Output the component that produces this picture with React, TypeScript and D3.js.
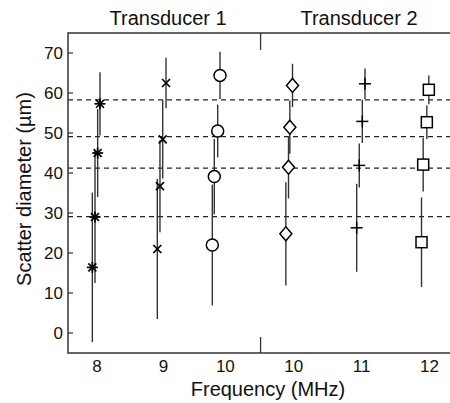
import React from "react";
import * as d3 from "d3";

// ---- data ----
const tickLabels = ["8", "9", "10", "10", "11", "12"];
const tickSlots = [1, 2, 2.93, 3.96, 4.98, 6.0];
const separatorSlot = 3.46;
const groupTitles = ["Transducer 1", "Transducer 2"];
const groupTitleSlots = [2.07, 4.94];
const yTicks = [0, 10, 20, 30, 40, 50, 60, 70];
const refLines = [29.1, 41.2, 49.1, 58.3];
const markers = ["asterisk", "x", "circle", "diamond", "plus", "square"];
const xSlots = [
  [0.93, 0.97, 1.01, 1.045],
  [1.907, 1.947, 1.988, 2.038],
  [2.734, 2.764, 2.815, 2.85],
  [3.84, 3.88, 3.9, 3.94],
  [4.905, 4.944, 4.99, 5.03],
  [5.88, 5.905, 5.96, 5.99],
];
const diameters = [
  [16.4, 29.0, 45.0, 57.3],
  [21.0, 36.7, 48.4, 62.5],
  [22.0, 39.1, 50.5, 64.4],
  [24.8, 41.45, 51.45, 61.9],
  [26.3, 41.9, 52.9, 62.3],
  [22.7, 42.1, 52.7, 60.8],
];
const errors = [
  [18.7, 16.5, 11.0, 7.9],
  [17.5, 11.5, 9.8, 6.3],
  [15.1, 9.4, 6.6, 5.9],
  [12.9, 7.8, 6.65, 5.4],
  [11.0, 5.5, 5.4, 3.8],
  [11.2, 6.7, 4.2, 3.6],
];

const W = 450;
const H = 403;
const left = 68;
const top = 33;
const bottom = 353;
const x = d3.scaleLinear().domain([0.564, 6.5]).range([left, left + (6.5 - 0.564) * 66.5]);
const y = d3.scaleLinear().domain([-5, 75]).range([bottom, top]);
const FONT = "Liberation Sans, Arial, sans-serif";

function Marker({ type, cx, cy }: { type: string; cx: number; cy: number }) {
  const st = { stroke: "#000", strokeWidth: 1.5, fill: "white" };
  switch (type) {
    case "asterisk": {
      const r = 5.5;
      const d = r * 0.72;
      return (
        <g stroke="#000" strokeWidth={1.7}>
          <line x1={cx - r} y1={cy} x2={cx + r} y2={cy} />
          <line x1={cx} y1={cy - r} x2={cx} y2={cy + r} />
          <line x1={cx - d} y1={cy - d} x2={cx + d} y2={cy + d} />
          <line x1={cx - d} y1={cy + d} x2={cx + d} y2={cy - d} />
        </g>
      );
    }
    case "x": {
      const r = 4;
      return (
        <g stroke="#000" strokeWidth={1.7}>
          <line x1={cx - r} y1={cy - r} x2={cx + r} y2={cy + r} />
          <line x1={cx - r} y1={cy + r} x2={cx + r} y2={cy - r} />
        </g>
      );
    }
    case "circle":
      return <circle cx={cx} cy={cy} r={6} {...st} />;
    case "diamond":
      return <path d={`M${cx},${cy - 7}L${cx + 6},${cy}L${cx},${cy + 7}L${cx - 6},${cy}Z`} {...st} />;
    case "plus": {
      const r = 6;
      return (
        <g stroke="#000" strokeWidth={1.5}>
          <line x1={cx - r} y1={cy} x2={cx + r} y2={cy} />
          <line x1={cx} y1={cy - r} x2={cx} y2={cy + r} />
        </g>
      );
    }
    default:
      return <rect x={cx - 5.5} y={cy - 5.5} width={11} height={11} {...st} />;
  }
}

export default function App() {
  return (
    <svg
      width={W}
      height={H}
      style={{ position: "absolute", left: 0, top: 0, background: "white" }}
      fontFamily={FONT}
    >
      {/* reference dashed lines */}
      {refLines.map((v, i) => (
        <line key={i} x1={left} x2={W} y1={y(v)} y2={y(v)} stroke="#222" strokeWidth={1.3} strokeDasharray="5,4" />
      ))}
      {/* error bars */}
      {xSlots.map((xs, g) =>
        xs.map((s, i) => (
          <line
            key={`e${g}-${i}`}
            x1={x(s)}
            x2={x(s)}
            y1={y(diameters[g][i] - errors[g][i])}
            y2={y(diameters[g][i] + errors[g][i])}
            stroke="#333"
            strokeWidth={1.4}
          />
        ))
      )}
      {/* markers */}
      {xSlots.map((xs, g) =>
        xs.map((s, i) => <Marker key={`m${g}-${i}`} type={markers[g]} cx={x(s)} cy={y(diameters[g][i])} />)
      )}
      {/* frame */}
      <path d={`M${W + 5},${top}H${left}V${bottom}H${W + 5}`} fill="none" stroke="#333" strokeWidth={1.5} />
      {/* separator ticks */}
      <line x1={x(separatorSlot)} x2={x(separatorSlot)} y1={top} y2={top + 17} stroke="#333" strokeWidth={1.3} />
      <line x1={x(separatorSlot)} x2={x(separatorSlot)} y1={bottom - 16} y2={bottom} stroke="#333" strokeWidth={1.3} />
      {/* y ticks */}
      {yTicks.map((t) => (
        <g key={t}>
          <line x1={left} x2={left + 5} y1={y(t)} y2={y(t)} stroke="#333" strokeWidth={1.2} />
          <text x={left - 5} y={y(t)} dy="0.36em" textAnchor="end" fontSize={17} fill="#111">
            {t}
          </text>
        </g>
      ))}
      {/* x tick labels */}
      {tickSlots.map((s, i) => (
        <text key={i} x={x(s)} y={372} textAnchor="middle" fontSize={17} fill="#111">
          {tickLabels[i]}
        </text>
      ))}
      {/* group titles */}
      {groupTitles.map((t, i) => (
        <text key={i} x={x(groupTitleSlots[i])} y={25} textAnchor="middle" fontSize={20} fill="#111">
          {t}
        </text>
      ))}
      <text x={268} y={396} textAnchor="middle" fontSize={20} fill="#111">
        Frequency (MHz)
      </text>
      <text
        transform={`translate(31,189) rotate(-90)`}
        textAnchor="middle"
        fontSize={20}
        fill="#111"
      >
        Scatter diameter (µm)
      </text>
    </svg>
  );
}
